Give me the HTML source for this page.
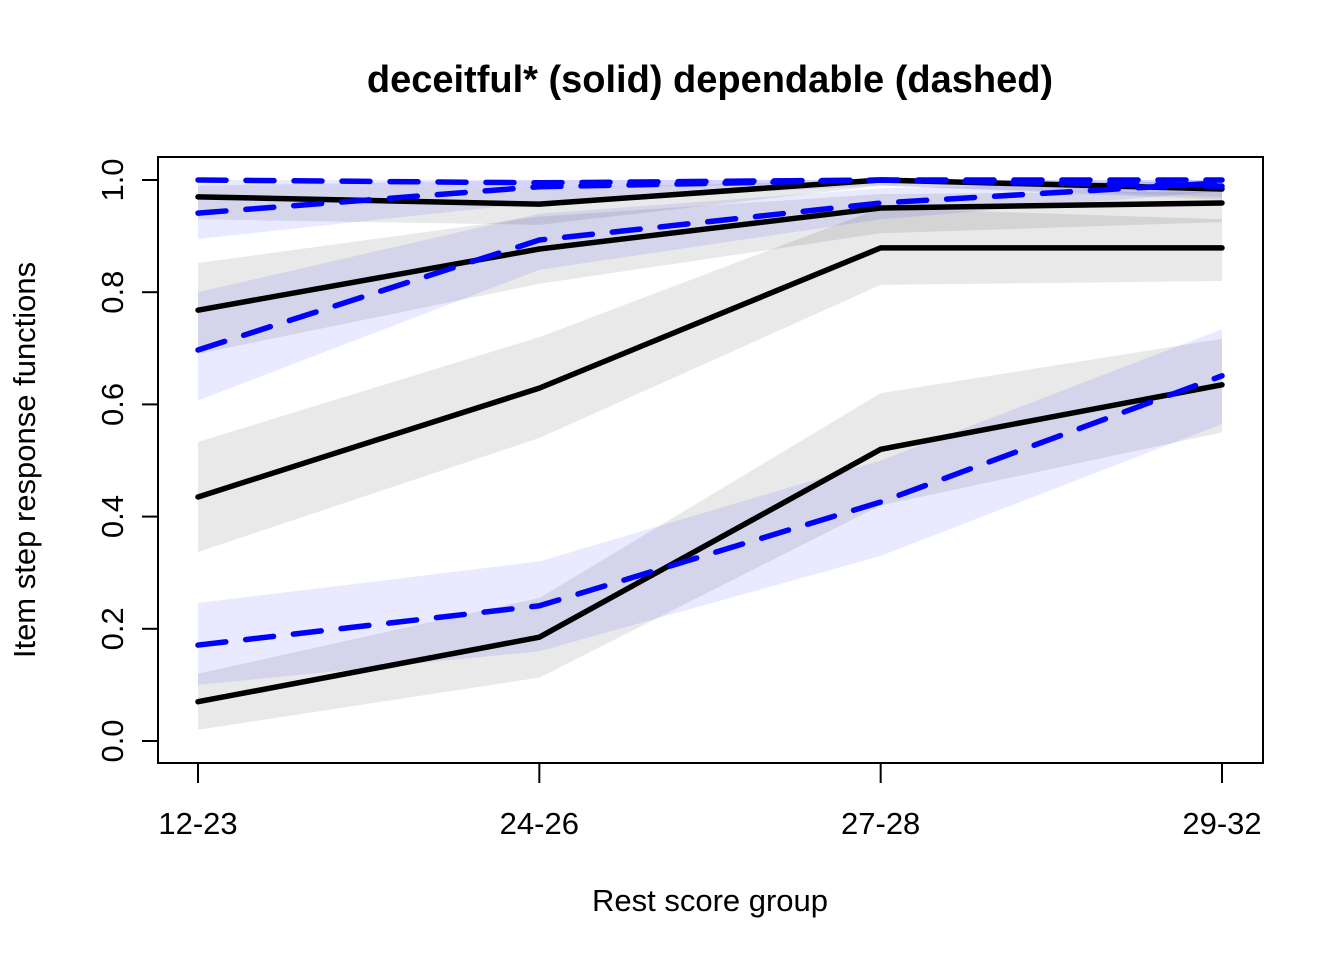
<!DOCTYPE html>
<html><head><meta charset="utf-8"><style>
html,body{margin:0;padding:0;background:#fff;}
svg{display:block;font-family:"Liberation Sans",Arial,sans-serif;}
</style></head><body>
<svg id="chart" width="1344" height="960" viewBox="0 0 1344 960">
<text x="710" y="92" text-anchor="middle" font-size="38" font-weight="bold">deceitful* (solid) dependable (dashed)</text>
<g id="bands"></g>
<g id="lines"></g>
<rect x="158" y="157" width="1105" height="606" fill="none" stroke="#000" stroke-width="2"/>
<g id="axes"></g>
<text x="710" y="911" text-anchor="middle" font-size="31">Rest score group</text>
<text transform="translate(35,460) rotate(-90)" text-anchor="middle" font-size="31">Item step response functions</text>
</svg>
<script>
const categories = ["12-23","24-26","27-28","29-32"];
const yTicks = [0, 0.2, 0.4, 0.6, 0.8, 1.0];
const yTickLabels = ["0.0","0.2","0.4","0.6","0.8","1.0"];
// solid (deceitful*) steps
const solid1 = [0.970, 0.957, 1.000, 0.984];
const solid2 = [0.768, 0.877, 0.950, 0.959];
const solid3 = [0.435, 0.629, 0.879, 0.879];
const solid4 = [0.070, 0.185, 0.520, 0.635];
const solid1Lo = [0.93, 0.92, 0.99, 0.965], solid1Hi = [0.99, 0.985, 1.0, 0.995];
const solid2Lo = [0.69, 0.815, 0.905, 0.925], solid2Hi = [0.852, 0.935, 0.975, 0.98];
const solid3Lo = [0.337, 0.54, 0.813, 0.82], solid3Hi = [0.533, 0.72, 0.95, 0.93];
const solid4Lo = [0.02, 0.113, 0.42, 0.55], solid4Hi = [0.12, 0.255, 0.62, 0.717];
// dashed (dependable) steps
const dash1 = [1.000, 0.995, 1.000, 1.000];
const dash2 = [0.941, 0.988, 1.000, 0.989];
const dash3 = [0.697, 0.893, 0.959, 0.995];
const dash4 = [0.171, 0.241, 0.426, 0.651];
const dash1Lo = [0.99, 0.985, 0.995, 0.995], dash1Hi = [1.0, 1.0, 1.0, 1.0];
const dash2Lo = [0.895, 0.96, 0.99, 0.97], dash2Hi = [0.99, 1.0, 1.0, 1.0];
const dash3Lo = [0.607, 0.84, 0.93, 0.98], dash3Hi = [0.80, 0.94, 0.985, 1.0];
const dash4Lo = [0.10, 0.16, 0.33, 0.565], dash4Hi = [0.246, 0.32, 0.50, 0.734];

const NS="http://www.w3.org/2000/svg";
const xs = i => 198 + i*(1222-198)/(categories.length-1);
const ys = v => 741 - v*561;
function mk(tag, attrs, parent){const e=document.createElementNS(NS,tag);for(const k in attrs)e.setAttribute(k,attrs[k]);parent.appendChild(e);return e;}
const bands=document.getElementById('bands'), lines=document.getElementById('lines'), axes=document.getElementById('axes');
function band(lo,hi,fill,name){
  let pts=hi.map((v,i)=>xs(i)+','+ys(v));
  pts=pts.concat(lo.map((v,i)=>xs(i)+','+ys(v)).reverse());
  const p=mk('polygon',{points:pts.join(' '),fill:fill},bands);
  
  
}
function line(vals,color,dash,name){
  const p=mk('polyline',{points:vals.map((v,i)=>xs(i)+','+ys(v)).join(' '),fill:'none',stroke:color,'stroke-width':5.5,'stroke-linejoin':'round','stroke-linecap':'round'},lines);
  if(dash) p.setAttribute('stroke-dasharray','28 20');
  
  
}
const gray='rgba(0,0,0,0.085)', blue='rgba(0,0,255,0.085)';
band(solid1Lo,solid1Hi,gray,'solid-step1-band');
band(solid2Lo,solid2Hi,gray,'solid-step2-band');
band(solid3Lo,solid3Hi,gray,'solid-step3-band');
band(solid4Lo,solid4Hi,gray,'solid-step4-band');
band(dash1Lo,dash1Hi,blue,'dashed-step1-band');
band(dash2Lo,dash2Hi,blue,'dashed-step2-band');
band(dash3Lo,dash3Hi,blue,'dashed-step3-band');
band(dash4Lo,dash4Hi,blue,'dashed-step4-band');
line(solid1,'#000',false,'solid-step1-line');
line(solid2,'#000',false,'solid-step2-line');
line(solid3,'#000',false,'solid-step3-line');
line(solid4,'#000',false,'solid-step4-line');
line(dash1,'#0000ff',true,'dashed-step1-line');
line(dash2,'#0000ff',true,'dashed-step2-line');
line(dash3,'#0000ff',true,'dashed-step3-line');
line(dash4,'#0000ff',true,'dashed-step4-line');
yTicks.forEach((v,i)=>{
  const t=mk('line',{x1:158,x2:142,y1:ys(v),y2:ys(v),stroke:'#000','stroke-width':2},axes);
  
  
  const l=mk('text',{transform:`translate(123,${ys(v)}) rotate(-90)`,'text-anchor':'middle','font-size':31},axes);
  l.textContent=yTickLabels[i];
  
  
});
categories.forEach((c,i)=>{
  const t=mk('line',{x1:xs(i),x2:xs(i),y1:763,y2:783,stroke:'#000','stroke-width':2},axes);
  
  
  const l=mk('text',{x:xs(i),y:834,'text-anchor':'middle','font-size':31},axes);
  l.textContent=c;
  
  
});
</script>
</body></html>
